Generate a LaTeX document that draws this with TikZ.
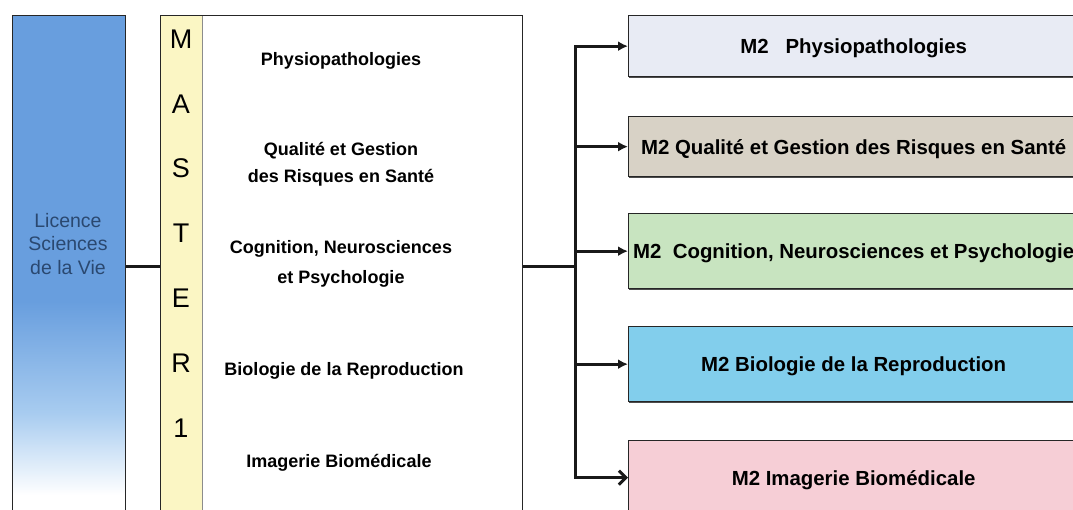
\documentclass[tikz,border=0pt]{standalone}
\usepackage{fontspec}
\setmainfont{Liberation Sans}
\usetikzlibrary{positioning, arrows.meta, shadows}

\definecolor{licblue}{RGB}{104,158,222}
\definecolor{licmid}{RGB}{168,204,240}
\definecolor{lictext}{RGB}{42,72,112}
\definecolor{mastercol}{RGB}{251,246,196}
\definecolor{physfill}{RGB}{232,235,244}
\definecolor{qualfill}{RGB}{216,210,198}
\definecolor{cognfill}{RGB}{200,228,192}
\definecolor{biofill}{RGB}{130,206,236}
\definecolor{imagfill}{RGB}{246,206,214}

\pgfdeclareverticalshading{licfade}{100bp}{color(0bp)=(white); color(28bp)=(white); color(36bp)=(licmid); color(47bp)=(licblue); color(100bp)=(licblue)}

\begin{document}
\begin{tikzpicture}[x=1pt, y=-1pt,
    box/.style={rectangle, draw=black!85, line width=1.3pt, inner sep=0pt, anchor=north west},
    mtwo/.style={box, minimum width=450pt, text height=15pt, text depth=0pt,
      font=\fontsize{20.4}{24}\selectfont\bfseries,
      drop shadow={shadow xshift=0.6pt, shadow yshift=-1.4pt, fill=black!70, opacity=1}},
    letter/.style={font=\fontsize{27}{30}\selectfont},
    subject/.style={font=\fontsize{18}{27}\selectfont\bfseries, align=center, anchor=base},
    link/.style={line width=3pt, black!90, line cap=rect},
    branch/.style={line width=3pt, black!90, -{Latex[length=10pt,width=10pt]}},
  ]

    % frame of the picture
    \path[use as bounding box, clip] (0,0) rectangle (1073,509);

    % Licence column (runs off the bottom)
    \node[box, line width=1.4pt, shading=licfade, minimum width=113pt, minimum height=510pt] (licence) at (12,15) {};
    \node[font=\fontsize{19.5}{23.5}\selectfont, text=lictext, align=center] (lictext) at (68,244) {Licence\\Sciences\\de la Vie};

    % Master 1 block with its yellow letter column
    \node[rectangle, fill=mastercol, inner sep=0pt, anchor=north west, minimum width=42pt, minimum height=520pt] (mcol) at (160,15) {};
    \draw[black!45, line width=0.8pt] (mcol.north east) -- (mcol.south east);
    \node[box, line width=1.1pt, minimum width=362pt, minimum height=520pt] (master) at (160,15) {};
    \foreach \l [count=\i] in {M,A,S,T,E,R,1}
        \node[letter] (mletter\i) at (181,{39+64.8*(\i-1)}) {\l};

    % M1 subjects (base = last line)
    \node[subject] (s1phys) at (341,65) {Physiopathologies};
    \node[subject] (s1qual) at (341,182) {Qualité et Gestion\\des Risques en Santé};
    \node[subject] (s1cogn) at (341,283) {Cognition, Neurosciences\\[3pt]et Psychologie};
    \node[subject] (s1bio) at (344,375) {Biologie de la Reproduction};
    \node[subject] (s1imag) at (339,467) {Imagerie Biomédicale};

    % M2 boxes on the right
    \node[mtwo, fill=physfill, minimum height=61pt] (m2phys) at (628,15) {M2\ \ \ Physiopathologies};
    \node[mtwo, fill=qualfill, minimum height=60pt] (m2qual) at (628,116) {M2 Qualité et Gestion des Risques en Santé};
    \node[mtwo, fill=cognfill, minimum height=75pt] (m2cogn) at (628,213) {M2\ \ Cognition, Neurosciences et Psychologie};
    \node[mtwo, fill=biofill, minimum height=75pt] (m2bio) at (628,326) {M2 Biologie de la Reproduction};
    \node[mtwo, fill=imagfill, minimum height=74pt] (m2imag) at (628,440) {M2 Imagerie Biomédicale};

    % connectors
    \coordinate (split) at (575,266);
    \draw[link, line cap=butt] (licence.east |- split) -- (master.west |- split);
    \draw[link, line cap=butt] (master.east |- split) -- (split);
    \draw[link] (split |- m2phys.west) -- (split |- m2imag.west);
    \foreach \b in {m2phys, m2qual, m2cogn, m2bio}
        \draw[branch] (split |- \b.west) -- (\b.west);
    \draw[line width=3pt, black!90, -{Straight Barb[length=7pt,width=14pt]}] (split |- m2imag.west) -- (m2imag.west);

\end{tikzpicture}
\end{document}
